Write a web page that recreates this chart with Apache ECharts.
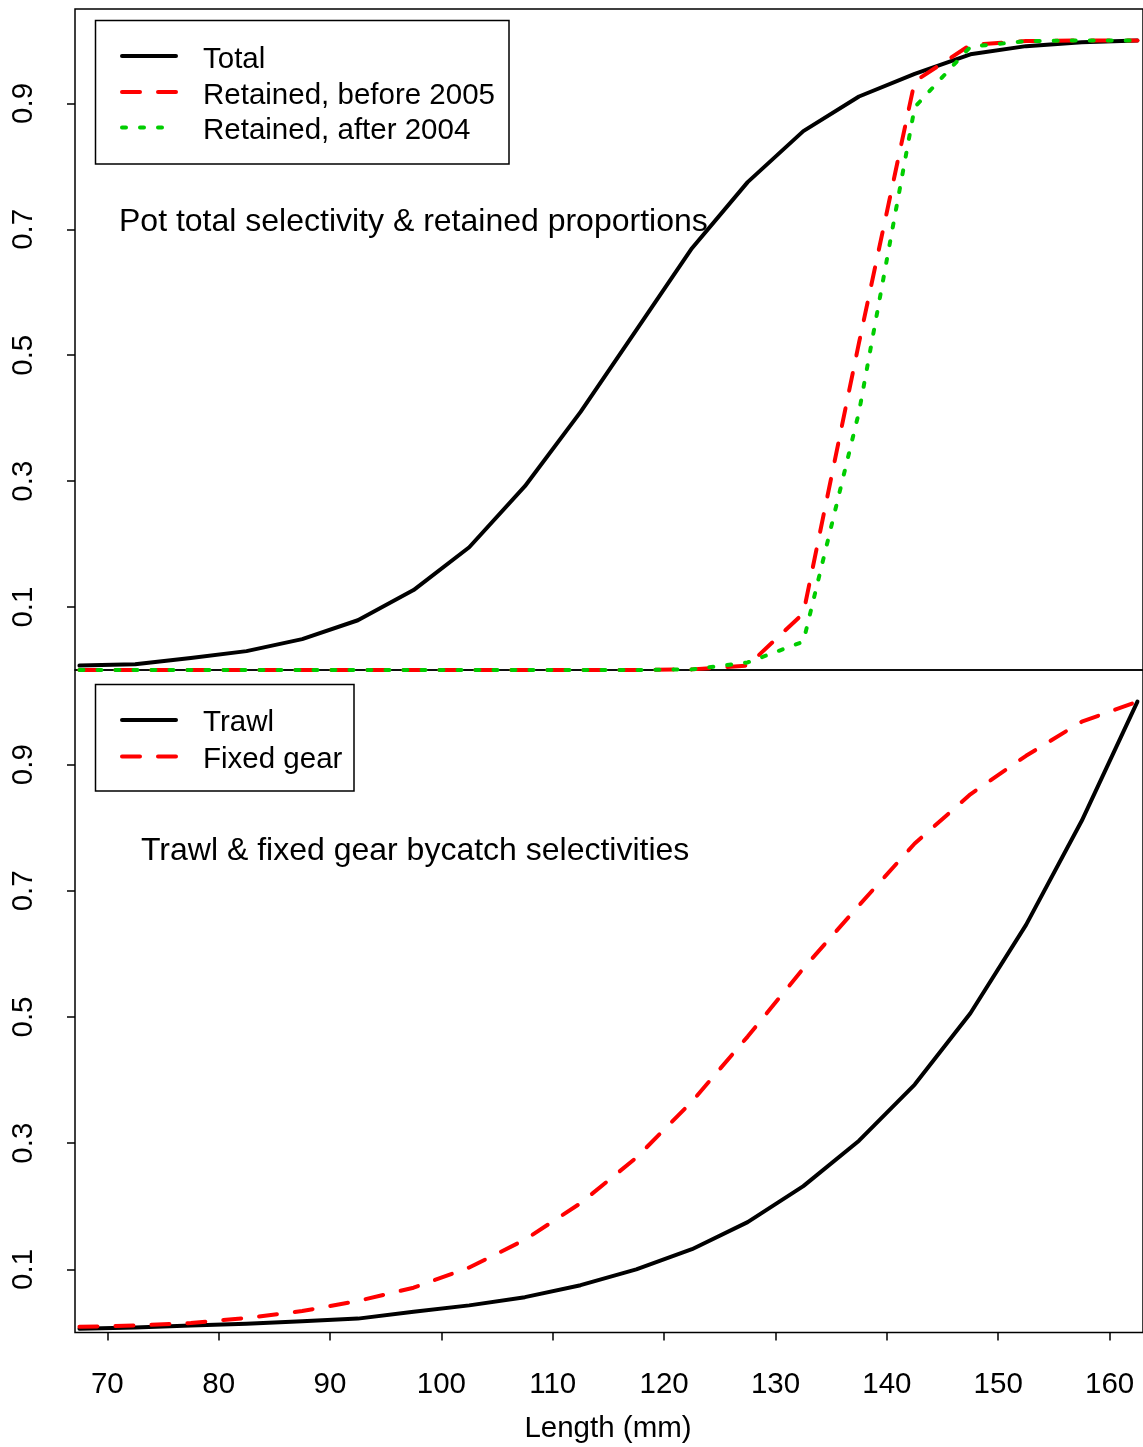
<!DOCTYPE html>
<html>
<head>
<meta charset="utf-8">
<script src="https://cdn.jsdelivr.net/npm/echarts@6/dist/echarts.min.js"></script>
<style>
  html, body { margin: 0; padding: 0; background: #fff; }
  #chart { width: 1143px; height: 1447px; }
</style>
</head>
<body>
<div id="chart"></div>
<script>
// Length bins (mm, bin midpoints)
const lengths = [67.5, 72.5, 77.5, 82.5, 87.5, 92.5, 97.5, 102.5, 107.5, 112.5,
                 117.5, 122.5, 127.5, 132.5, 137.5, 142.5, 147.5, 152.5, 157.5, 162.5];

// Pot fishery: total selectivity and retained proportions
const potTotal = [0.007, 0.009, 0.019, 0.03, 0.049, 0.079, 0.127, 0.195, 0.292, 0.41,
                  0.54, 0.67, 0.775, 0.856, 0.911, 0.947, 0.978, 0.991, 0.997, 1.0];
const retainedBefore2005 = [0, 0, 0, 0, 0, 0, 0, 0, 0, 0,
                            0, 0.001, 0.007, 0.09, 0.52, 0.935, 0.993, 0.999, 1.0, 1.0];
const retainedAfter2004 = [0, 0, 0, 0, 0, 0, 0, 0, 0, 0,
                           0, 0.001, 0.012, 0.045, 0.41, 0.894, 0.99, 0.999, 1.0, 1.0];

// Bycatch selectivities
const trawl = [0.006, 0.008, 0.011, 0.014, 0.018, 0.022, 0.033, 0.043, 0.056, 0.075,
               0.1, 0.132, 0.175, 0.232, 0.304, 0.393, 0.506, 0.646, 0.811, 1.0];
const fixedGear = [0.009, 0.011, 0.015, 0.023, 0.034, 0.05, 0.071, 0.103, 0.147, 0.205,
                   0.277, 0.366, 0.469, 0.577, 0.677, 0.775, 0.853, 0.914, 0.968, 1.0];

// Tick labels
const xTicks = [70, 80, 90, 100, 110, 120, 130, 140, 150, 160];
const yTicks = [0.1, 0.3, 0.5, 0.7, 0.9];

const FONT = '"Liberation Sans", Arial, sans-serif';
const FS = 29.5;      // axis and legend text
const FS_NOTE = 32;   // panel captions
const RED = '#FF0000';
const GREEN = '#00CD00';

const pairs = (ys) => lengths.map((x, i) => [x, ys[i]]);

function lineSeries(name, ys, idx, color, dash) {
  return {
    name: name,
    type: 'line',
    xAxisIndex: idx,
    yAxisIndex: idx,
    data: pairs(ys),
    showSymbol: false,
    symbol: 'none',
    animation: false,
    silent: true,
    lineStyle: {
      color: color,
      width: 4,
      type: dash || 'solid',
      cap: 'round',
      join: 'round'
    }
  };
}

function xAxis(idx, showLabels) {
  return {
    type: 'value',
    gridIndex: idx,
    min: 67.1,
    max: 163.0,
    axisLine: { show: false },
    splitLine: { show: false },
    axisTick: showLabels ? {
      show: true, length: 8, lineStyle: { color: '#000', width: 1.5 },
      customValues: xTicks
    } : { show: false },
    axisLabel: showLabels ? {
      show: true, color: '#000', fontSize: FS, fontFamily: FONT, margin: 37,
      customValues: xTicks
    } : { show: false }
  };
}

function yAxis(idx) {
  return {
    type: 'value',
    gridIndex: idx,
    min: 0,
    max: 1.05,
    axisLine: { show: false },
    splitLine: { show: false },
    axisTick: {
      show: true, length: 8, lineStyle: { color: '#000', width: 1.5 },
      customValues: yTicks
    },
    axisLabel: {
      show: true, color: '#000', fontSize: FS, fontFamily: FONT,
      rotate: 90, margin: 36, customValues: yTicks,
      formatter: (v) => v.toFixed(1)
    }
  };
}

const textStyle = (t, x, y, align, size) => ({
  type: 'text',
  x: x, y: y,
  style: {
    text: t, fill: '#000', fontSize: size || FS, fontFamily: FONT,
    textAlign: align || 'left', textVerticalAlign: 'middle'
  },
  silent: true
});

const legLine = (y, color, dash) => ({
  type: 'line',
  shape: { x1: 122, y1: y, x2: 176, y2: y },
  style: { stroke: color, lineWidth: 4, lineCap: 'round', lineDash: dash || null },
  silent: true
});

const box = (x, y, w, h) => ({
  type: 'rect',
  shape: { x: x, y: y, width: w, height: h },
  style: { fill: '#fff', stroke: '#000', lineWidth: 1.5 },
  silent: true
});

const chart = echarts.init(document.getElementById('chart'), null, { renderer: 'canvas' });

chart.setOption({
  backgroundColor: '#fff',
  animation: false,
  grid: [
    { left: 75, top: 9, width: 1070, height: 661, show: true,
      borderColor: '#000', borderWidth: 1.5, backgroundColor: 'transparent' },
    { left: 75, top: 670, width: 1070, height: 662.5, show: true,
      borderColor: '#000', borderWidth: 1.5, backgroundColor: 'transparent' }
  ],
  xAxis: [xAxis(0, false), xAxis(1, true)],
  yAxis: [yAxis(0), yAxis(1)],
  series: [
    lineSeries('Total', potTotal, 0, '#000'),
    lineSeries('Retained, before 2005', retainedBefore2005, 0, RED, [18, 18]),
    lineSeries('Retained, after 2004', retainedAfter2004, 0, GREEN, [4, 14]),
    lineSeries('Trawl', trawl, 1, '#000'),
    lineSeries('Fixed gear', fixedGear, 1, RED, [18, 18])
  ],
  graphic: [
    // pot legend
    box(95.5, 20.5, 413.5, 143.5),
    legLine(56, '#000'),
    legLine(92, RED, [18, 18]),
    legLine(127.5, GREEN, [4, 14]),
    textStyle('Total', 203, 60),
    textStyle('Retained, before 2005', 203, 96),
    textStyle('Retained, after 2004', 203, 131),
    textStyle('Pot total selectivity & retained proportions', 119, 222, 'left', FS_NOTE),
    // bycatch legend
    box(95.5, 684.5, 258.5, 106.5),
    legLine(720, '#000'),
    legLine(756.5, RED, [18, 18]),
    textStyle('Trawl', 203, 723),
    textStyle('Fixed gear', 203, 760),
    textStyle('Trawl & fixed gear bycatch selectivities', 141, 851, 'left', FS_NOTE),
    // x axis title
    textStyle('Length (mm)', 608, 1429, 'center')
  ]
});
</script>
</body>
</html>
